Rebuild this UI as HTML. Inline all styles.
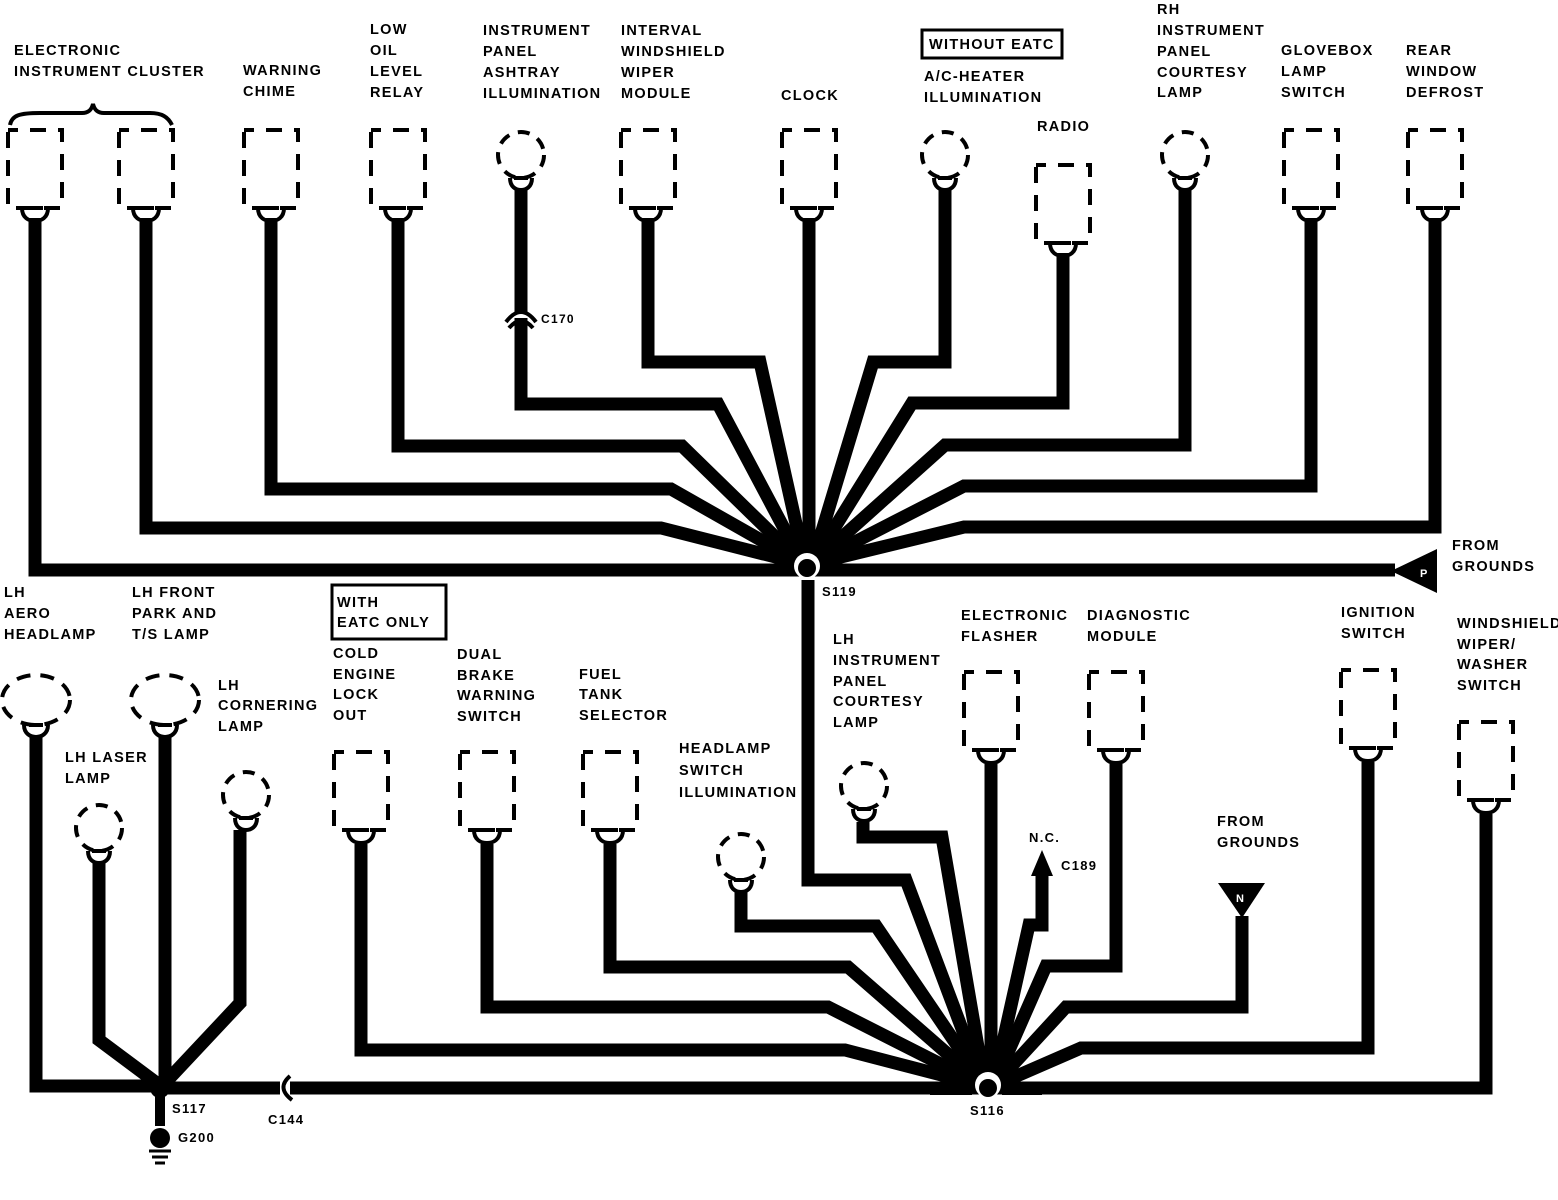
<!DOCTYPE html>
<html><head><meta charset="utf-8"><style>
html,body{margin:0;padding:0;background:#fff;}
svg{display:block;}
text{font-family:"Liberation Sans",sans-serif;font-weight:bold;font-size:14.5px;letter-spacing:1.3px;fill:#000;}
</style></head><body>
<svg width="1558" height="1200" viewBox="0 0 1558 1200" xmlns="http://www.w3.org/2000/svg">
<defs>
<g id="box">
<rect x="-27" y="2" width="54" height="78" fill="none" stroke="#000" stroke-width="4" stroke-dasharray="16 12" stroke-dashoffset="6"/>
<path d="M-13,80 C-13,90 -6,93 0,93 C6,93 13,90 13,80" fill="none" stroke="#000" stroke-width="4"/>
<path d="M-8,80 L8,80" stroke="#000" stroke-width="4"/>
</g>
<g id="bulb">
<ellipse cx="0" cy="0" rx="23" ry="23" fill="none" stroke="#000" stroke-width="4" stroke-dasharray="12 9"/>
<path d="M-11,23 C-11,32 -5,35 0,35 C5,35 11,32 11,23" fill="none" stroke="#000" stroke-width="4"/>
<path d="M-7,23 L7,23" stroke="#000" stroke-width="4"/>
</g>
<g id="bigbulb">
<ellipse cx="0" cy="0" rx="34" ry="25" fill="none" stroke="#000" stroke-width="4" stroke-dasharray="14 10"/>
<path d="M-12,25 C-12,34 -5,37 0,37 C5,37 12,34 12,25" fill="none" stroke="#000" stroke-width="4"/>
<path d="M-7,25 L7,25" stroke="#000" stroke-width="4"/>
</g>
</defs>

<path d="M10,125 C12,115 20,113 40,113 L82,113 C90,113 92,108 93,104 C94,108 96,113 104,113 L150,113 C162,113 168,117 172,125" fill="none" stroke="#000" stroke-width="4"/>

<use href="#box" x="35" y="128"/>
<use href="#box" x="146" y="128"/>
<use href="#box" x="271" y="128"/>
<use href="#box" x="398" y="128"/>
<use href="#box" x="648" y="128"/>
<use href="#box" x="809" y="128"/>
<use href="#box" x="1063" y="163"/>
<use href="#box" x="1311" y="128"/>
<use href="#box" x="1435" y="128"/>
<use href="#bulb" x="521" y="155"/>
<use href="#bulb" x="945" y="155"/>
<use href="#bulb" x="1185" y="155"/>

<g fill="none" stroke="#000" stroke-width="13" stroke-linejoin="miter">
<polyline points="35,218 35,570 1395,570"/>
<polyline points="146,218 146,528 661,528 803,564"/>
<polyline points="271,218 271,489 671,489 803,564"/>
<polyline points="398,218 398,446 682,446 803,564"/>
<polyline points="521,188 521,404 718,404 803,564"/>
<polyline points="648,218 648,362 760,362 805,564"/>
<polyline points="809,218 809,564"/>
<polyline points="945,188 945,362 873,362 812,564"/>
<polyline points="1063,253 1063,403 912,403 812,564"/>
<polyline points="1185,188 1185,445 945,445 812,564"/>
<polyline points="1311,218 1311,486 964,486 812,564"/>
<polyline points="1435,218 1435,527 964,527 812,564"/>
</g>
<rect x="508" y="312" width="26" height="6" fill="#fff"/>
<path d="M506,322 Q521,302 536,322" fill="none" stroke="#000" stroke-width="4"/>
<path d="M509,328 Q521,314 533,328" fill="none" stroke="#000" stroke-width="4"/>
<text x="541" y="323" style="font-size:12px">C170</text>

<polygon points="1391,571 1437,549 1437,593" fill="#000"/>
<text x="1420" y="577" style="fill:#fff;font-size:11px">P</text>

<circle cx="807" cy="566" r="13" fill="#fff"/>
<circle cx="807" cy="568" r="9" fill="#000"/>
<rect x="802" y="580" width="12" height="8" fill="#000"/>

<g fill="none" stroke="#000" stroke-width="13" stroke-linejoin="miter">
<polyline points="808,580 808,880 906,880 982,1082"/>
<polyline points="863,822 863,837 942,837 984,1082"/>
<polyline points="361,844 361,1050 845,1050 980,1085"/>
<polyline points="487,844 487,1007 828,1007 980,1084"/>
<polyline points="610,844 610,967 848,967 981,1083"/>
<polyline points="741,892 741,926 876,926 982,1082"/>
<polyline points="991,764 991,1082"/>
<polyline points="1042,872 1042,925 1029,925 994,1082"/>
<polyline points="1116,764 1116,966 1046,966 995,1082"/>
<polyline points="1242,916 1242,1007 1066,1007 996,1083"/>
<polyline points="1368,762 1368,1048 1081,1048 996,1085"/>
<polyline points="1486,814 1486,1088 160,1088"/>
<polyline points="36,735 36,1086 160,1086"/>
<polyline points="165,735 165,1086"/>
<polyline points="99,862 99,1040 158,1084"/>
<polyline points="240,830 240,1003 164,1084"/>
</g>

<polygon points="1042,850 1031,876 1053,876" fill="#000"/>
<polygon points="1218,883 1265,883 1242,918" fill="#000"/>
<text x="1236" y="902" style="fill:#fff;font-size:11px">N</text>

<use href="#bigbulb" x="36" y="700"/>
<use href="#bigbulb" x="165" y="700"/>
<use href="#bulb" x="246" y="795"/>
<use href="#bulb" x="99" y="828"/>
<use href="#bulb" x="741" y="857"/>
<use href="#bulb" x="864" y="786"/>
<use href="#box" x="361" y="750"/>
<use href="#box" x="487" y="750"/>
<use href="#box" x="610" y="750"/>
<use href="#box" x="991" y="670"/>
<use href="#box" x="1116" y="670"/>
<use href="#box" x="1368" y="668"/>
<use href="#box" x="1486" y="720"/>

<circle cx="988" cy="1085" r="13" fill="#fff"/>
<circle cx="988" cy="1088" r="9" fill="#000"/>
<rect x="930" y="1082" width="42" height="13" fill="#000"/>
<rect x="1002" y="1082" width="40" height="13" fill="#000"/>

<rect x="280" y="1079" width="10" height="16" fill="#fff"/>
<path d="M290,1076 Q276,1088 292,1100" fill="none" stroke="#000" stroke-width="4"/>

<circle cx="160" cy="1088" r="10" fill="#000"/>
<rect x="155" y="1096" width="10" height="30" fill="#000"/>
<circle cx="160" cy="1138" r="10" fill="#000"/>
<path d="M149,1151 L171,1151 M152,1157 L168,1157 M155,1163 L165,1163" stroke="#000" stroke-width="3"/>
<text x="172" y="1113" style="font-size:13px">S117</text>
<text x="178" y="1142" style="font-size:13px">G200</text>
<text x="268" y="1124" style="font-size:13px">C144</text>
<text x="970" y="1115" style="font-size:13px">S116</text>
<text x="822" y="596" style="font-size:13px">S119</text>

<text x="14" y="55">ELECTRONIC</text>
<text x="14" y="76">INSTRUMENT CLUSTER</text>
<text x="243" y="75">WARNING</text>
<text x="243" y="96">CHIME</text>
<text x="370" y="34">LOW</text>
<text x="370" y="55">OIL</text>
<text x="370" y="76">LEVEL</text>
<text x="370" y="97">RELAY</text>
<text x="483" y="35">INSTRUMENT</text>
<text x="483" y="56">PANEL</text>
<text x="483" y="77">ASHTRAY</text>
<text x="483" y="98">ILLUMINATION</text>
<text x="621" y="35">INTERVAL</text>
<text x="621" y="56">WINDSHIELD</text>
<text x="621" y="77">WIPER</text>
<text x="621" y="98">MODULE</text>
<text x="781" y="100">CLOCK</text>
<rect x="922" y="30" width="140" height="28" fill="none" stroke="#000" stroke-width="3"/>
<text x="929" y="49">WITHOUT EATC</text>
<text x="924" y="81">A/C-HEATER</text>
<text x="924" y="102">ILLUMINATION</text>
<text x="1037" y="131">RADIO</text>
<text x="1157" y="14">RH</text>
<text x="1157" y="35">INSTRUMENT</text>
<text x="1157" y="56">PANEL</text>
<text x="1157" y="77">COURTESY</text>
<text x="1157" y="97">LAMP</text>
<text x="1281" y="55">GLOVEBOX</text>
<text x="1281" y="76">LAMP</text>
<text x="1281" y="97">SWITCH</text>
<text x="1406" y="55">REAR</text>
<text x="1406" y="76">WINDOW</text>
<text x="1406" y="97">DEFROST</text>
<text x="1452" y="550">FROM</text>
<text x="1452" y="571">GROUNDS</text>

<text x="4" y="597">LH</text>
<text x="4" y="618">AERO</text>
<text x="4" y="639">HEADLAMP</text>
<text x="132" y="597">LH FRONT</text>
<text x="132" y="618">PARK AND</text>
<text x="132" y="639">T/S LAMP</text>
<rect x="332" y="585" width="114" height="54" fill="none" stroke="#000" stroke-width="3"/>
<text x="337" y="607">WITH</text>
<text x="337" y="627">EATC ONLY</text>
<text x="333" y="658">COLD</text>
<text x="333" y="679">ENGINE</text>
<text x="333" y="699">LOCK</text>
<text x="333" y="720">OUT</text>
<text x="218" y="690">LH</text>
<text x="218" y="710">CORNERING</text>
<text x="218" y="731">LAMP</text>
<text x="65" y="762">LH LASER</text>
<text x="65" y="783">LAMP</text>
<text x="457" y="659">DUAL</text>
<text x="457" y="680">BRAKE</text>
<text x="457" y="700">WARNING</text>
<text x="457" y="721">SWITCH</text>
<text x="579" y="679">FUEL</text>
<text x="579" y="699">TANK</text>
<text x="579" y="720">SELECTOR</text>
<text x="679" y="753">HEADLAMP</text>
<text x="679" y="775">SWITCH</text>
<text x="679" y="797">ILLUMINATION</text>
<text x="833" y="644">LH</text>
<text x="833" y="665">INSTRUMENT</text>
<text x="833" y="686">PANEL</text>
<text x="833" y="706">COURTESY</text>
<text x="833" y="727">LAMP</text>
<text x="961" y="620">ELECTRONIC</text>
<text x="961" y="641">FLASHER</text>
<text x="1087" y="620">DIAGNOSTIC</text>
<text x="1087" y="641">MODULE</text>
<text x="1341" y="617">IGNITION</text>
<text x="1341" y="638">SWITCH</text>
<text x="1457" y="628">WINDSHIELD</text>
<text x="1457" y="649">WIPER/</text>
<text x="1457" y="669">WASHER</text>
<text x="1457" y="690">SWITCH</text>
<text x="1029" y="842" style="font-size:13px">N.C.</text>
<text x="1061" y="870" style="font-size:13px">C189</text>
<text x="1217" y="826">FROM</text>
<text x="1217" y="847">GROUNDS</text>
</svg>
</body></html>
